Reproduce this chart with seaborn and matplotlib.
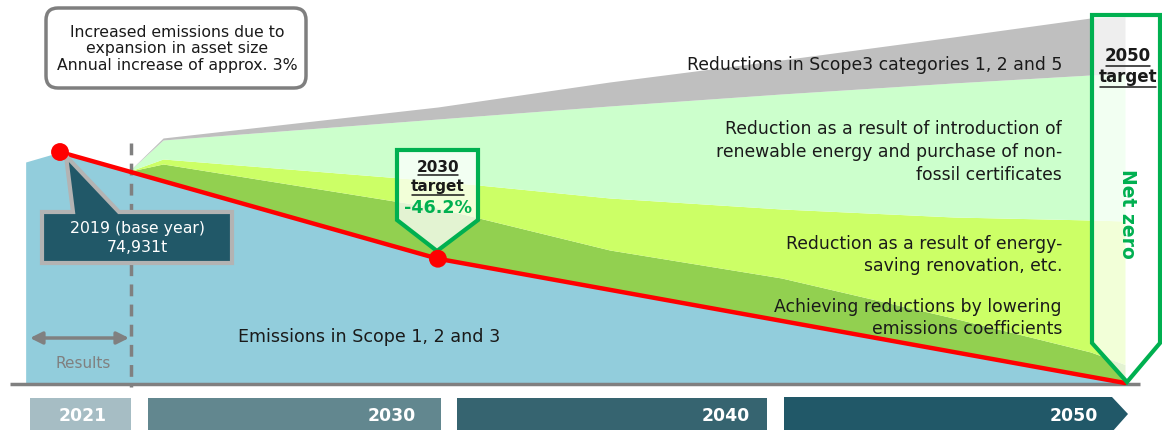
import numpy as np
import pandas as pd
import seaborn as sns
import matplotlib.pyplot as plt
from matplotlib import transforms
from matplotlib.patches import Polygon, FancyBboxPatch, Rectangle

sns.set_theme(style='white')
plt.rcParams['font.family'] = ['DejaVu Sans']

# histórico (antes do ano de corte)
anos_hist = [2018, 2019]
emissoes_hist = [71690, 74931]

# projeção: níveis acumulados de cada faixa (t-CO2)
anos = [2021, 2022, 2030, 2035, 2040, 2045, 2049, 2050]
emissoes = [68637, 65490, 40313, 30235, 20157, 10078, 2016, 0]
nivel_coef = [68637, 71044, 56770, 43145, 34062, 21086, 10056, 6000]
nivel_energia = [68637, 72666, 65529, 60014, 56446, 53850, 52877, 52553]
nivel_renovavel = [68637, 78829, 85642, 89859, 93752, 97320, 99915, 100240]
nivel_scope3 = [68637, 79478, 89534, 97644, 104781, 112242, 118406, 118730]

# trajetória da meta
meta_anos = [2019, 2030, 2050]
meta_valores = [74931, 40313, 0]
marcos_anos = [2019, 2030]
marcos_valores = [74931, 40313]

faixas = [
    ('Achieving reductions by lowering\nemissions coefficients', '#92d050'),
    ('Reduction as a result of energy-\nsaving renovation, etc.', '#ccff66'),
    ('Reduction as a result of introduction of\nrenewable energy and purchase of non-\nfossil certificates', '#ccffcc'),
    ('Reductions in Scope3 categories 1, 2 and 5', '#bfbfbf'),
]
linha_tempo = ['2021', '2030', '2040', '2050']

W, H, DPI = 1162, 430, 100
fig = plt.figure(figsize=(W / DPI, H / DPI), dpi=DPI)
ax = fig.add_axes([0, 0, 1, 1])
ax.set_axis_off()

# escala: 2019 -> px 60, 2050 -> px 1125 ; zero -> py 383
px_ano = (1125 - 60) / 31
t_px = 74931 / 231
ax.set_xlim(2019 - 60 / px_ano, 2019 + (W - 60) / px_ano)
ax.set_ylim(-(H - 383) * t_px, 383 * t_px)

# transformação em pixels (origem no canto superior esquerdo)
T = transforms.Affine2D().scale(1 / DPI, -1 / DPI).translate(0, H / DPI) + fig.dpi_scale_trans
renderer = fig.canvas.get_renderer()


def texto_sublinhado(x, y, s, tamanho):
    t = ax.text(x, y, s, transform=T, ha='center', va='center', fontsize=tamanho,
                fontweight='bold', color='#1a1a1a', zorder=7)
    bb = t.get_window_extent(renderer)
    yl = H - bb.y0 + 0.5
    ax.plot([bb.x0 + 1, bb.x1 - 1], [yl, yl], transform=T, color='#1a1a1a', lw=1.1, zorder=7)


# áreas
x_azul = anos_hist + anos
y_azul = emissoes_hist + emissoes
ax.fill_between(x_azul, 0, y_azul, color='#92cddc', lw=0, zorder=1)
niveis = [emissoes, nivel_coef, nivel_energia, nivel_renovavel, nivel_scope3]
for i, (rotulo, cor) in enumerate(faixas):
    ax.fill_between(anos, niveis[i], niveis[i + 1], color=cor, lw=0, zorder=1)

# linha base e linha tracejada
ax.plot([10, 1140], [384, 384], transform=T, color='#808080', lw=2.5, zorder=2, solid_capstyle='butt')
ax.plot([131, 131], [143, 387], transform=T, color='#808080', lw=2.5, dashes=(3.4, 2.4), zorder=3)

# meta
sns.lineplot(x=meta_anos, y=meta_valores, color='red', lw=3.2, ax=ax, zorder=5)
sns.scatterplot(x=marcos_anos, y=marcos_valores, color='red', s=165, edgecolor='none', ax=ax, zorder=8)

# caixa superior
caixa = FancyBboxPatch((46, 8), 260, 80, boxstyle='round,pad=0,rounding_size=12', transform=T,
                       fc='white', ec='#7f7f7f', lw=2.5, zorder=6)
ax.add_patch(caixa)
ax.text(177, 49, 'Increased emissions due to\nexpansion in asset size\nAnnual increase of approx. 3%',
        transform=T, ha='center', va='center', multialignment='center', fontsize=11.3,
        linespacing=1.1, color='#1a1a1a', zorder=7)

# balão ano base
balao = Polygon([(42, 212), (73, 212), (66, 156), (119, 212), (232, 212), (232, 263), (42, 263)],
                closed=True, transform=T, fc='#215868', ec='#b3b3b3', lw=3, joinstyle='miter', zorder=6)
ax.add_patch(balao)
ax.text(137, 238, '2019 (base year)\n74,931t', transform=T, ha='center', va='center',
        fontsize=11.3, linespacing=1.35, color='white', zorder=7)

# meta 2030
p30 = Polygon([(397, 150), (478, 150), (478, 220), (437, 251), (397, 220)], closed=True, transform=T,
              fc=(1, 1, 1, 0.75), ec='#00b050', lw=3, joinstyle='miter', zorder=6)
ax.add_patch(p30)
texto_sublinhado(438, 167, '2030', 11)
texto_sublinhado(438, 187, 'target', 11)
ax.text(438, 208, '-46.2%', transform=T, ha='center', va='center', fontsize=12.6, fontweight='bold',
        color='#00b050', zorder=7)

# meta 2050
p50 = Polygon([(1092, 15), (1160, 15), (1160, 343), (1127, 382), (1092, 343)], closed=True, transform=T,
              fc=(1, 1, 1, 0.75), ec='#00b050', lw=3, joinstyle='miter', zorder=6)
ax.add_patch(p50)
texto_sublinhado(1128, 56, '2050', 12)
texto_sublinhado(1128, 77, 'target', 12)
ax.text(1127, 214, 'Net zero', transform=T, ha='center', va='center', rotation=-90, fontsize=13.5,
        fontweight='bold', color='#00b050', zorder=7)

# rótulos das faixas
pos_rotulos = [318, 255, 152, 65]
for (rotulo, cor), y in zip(faixas, pos_rotulos):
    ax.text(1062, y, rotulo, transform=T, ha='right', va='center', multialignment='right',
            fontsize=12.4, linespacing=1.33, color='#1a1a1a', zorder=4)
ax.text(369, 337, 'Emissions in Scope 1, 2 and 3', transform=T, ha='center', va='center',
        fontsize=12.6, color='#1a1a1a', zorder=4)

# resultados
ax.annotate('', xy=(30, 338), xytext=(129, 338), xycoords=T, textcoords=T,
            arrowprops=dict(arrowstyle='<|-|>', color='#808080', lw=2.5, mutation_scale=18,
                            shrinkA=0, shrinkB=0), zorder=4)
ax.text(83, 363, 'Results', transform=T, ha='center', va='center', fontsize=11, color='#808080', zorder=4)

# linha do tempo
blocos = [(30, 131, '#a6bdc4', 83), (148, 441, '#62878f', 392), (457, 767, '#366470', 726)]
for (x0, x1, cor, xt), rot in zip(blocos, linha_tempo[:3]):
    ax.add_patch(Rectangle((x0, 398), x1 - x0, 40, transform=T, fc=cor, ec='none', zorder=3, clip_on=False))
    ax.text(xt, 416, rot, transform=T, ha='center', va='center', fontsize=12.4, fontweight='bold',
            color='white', zorder=4)
seta = Polygon([(784, 397), (1112, 397), (1128, 414), (1112, 432), (784, 432)], closed=True, transform=T,
               fc='#215868', ec='none', zorder=3)
ax.add_patch(seta)
ax.text(1074, 416, linha_tempo[3], transform=T, ha='center', va='center', fontsize=12.4, fontweight='bold',
        color='white', zorder=4)

fig.savefig('out.png', dpi=DPI)
